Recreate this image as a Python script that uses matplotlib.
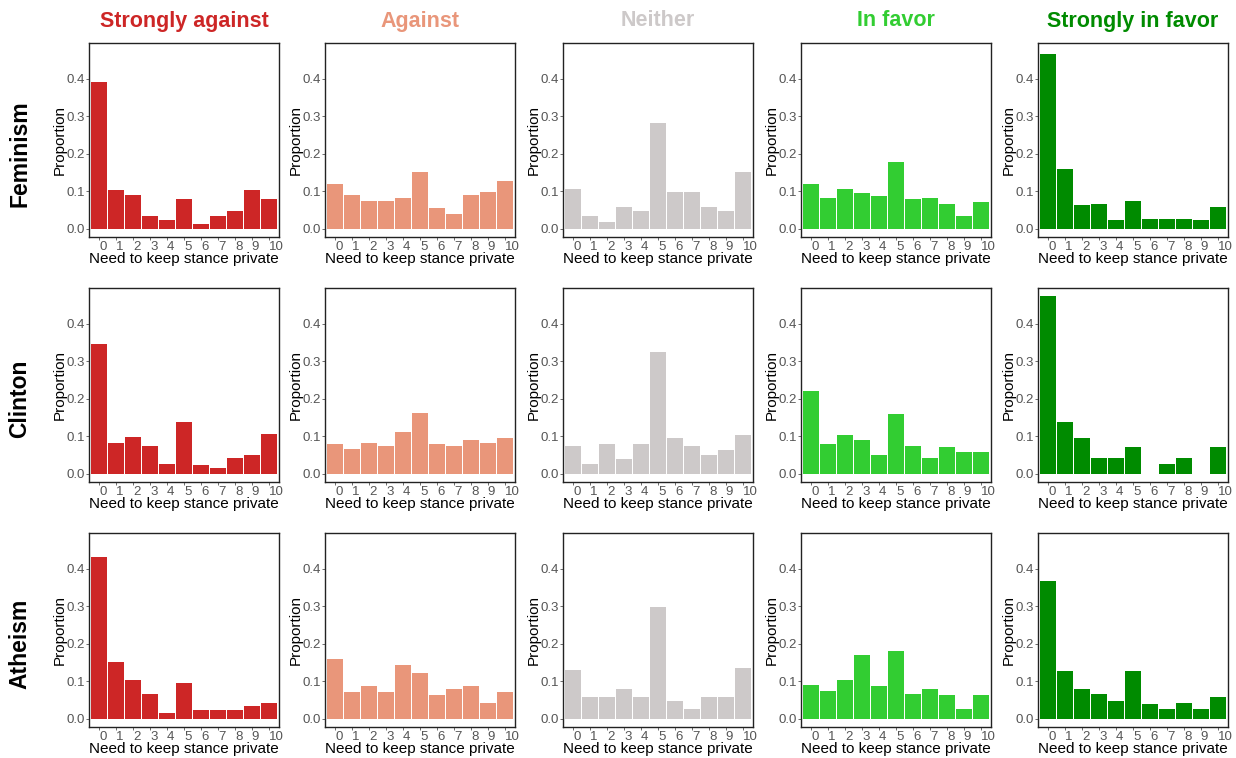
import matplotlib
matplotlib.use("Agg")
import matplotlib.pyplot as plt
import numpy as np

plt.rcParams['font.family'] = ['Liberation Sans', 'DejaVu Sans']

# stance groups (columns) and topics (rows)
stances = ['Strongly against', 'Against', 'Neither', 'In favor', 'Strongly in favor']
stance_colors = ['#CD2626', '#E9967A', '#CDC9C9', '#32CD32', '#008B00']
topics = ['Feminism', 'Clinton', 'Atheism']
scale = list(range(11))
tick_labels = [str(s) for s in scale]

# proportion answering each point of the 0-10 scale
feminism = [
    [0.390, 0.104, 0.091, 0.035, 0.022, 0.080, 0.012, 0.035, 0.046, 0.104, 0.080],
    [0.120, 0.091, 0.075, 0.075, 0.083, 0.150, 0.054, 0.038, 0.091, 0.099, 0.128],
    [0.107, 0.035, 0.019, 0.059, 0.046, 0.282, 0.099, 0.099, 0.059, 0.046, 0.152],
    [0.118, 0.083, 0.107, 0.096, 0.088, 0.179, 0.078, 0.083, 0.065, 0.035, 0.070],
    [0.465, 0.158, 0.062, 0.065, 0.022, 0.075, 0.027, 0.027, 0.027, 0.022, 0.057],
]
clinton = [
    [0.346, 0.083, 0.099, 0.073, 0.027, 0.139, 0.022, 0.014, 0.043, 0.049, 0.107],
    [0.080, 0.067, 0.083, 0.073, 0.112, 0.163, 0.080, 0.073, 0.091, 0.083, 0.096],
    [0.073, 0.025, 0.078, 0.038, 0.078, 0.325, 0.096, 0.073, 0.049, 0.062, 0.102],
    [0.221, 0.080, 0.104, 0.091, 0.049, 0.158, 0.073, 0.041, 0.070, 0.059, 0.057],
    [0.473, 0.139, 0.096, 0.041, 0.041, 0.070, 0.000, 0.027, 0.041, 0.000, 0.070],
]
atheism = [
    [0.431, 0.152, 0.102, 0.065, 0.014, 0.094, 0.022, 0.022, 0.022, 0.035, 0.043],
    [0.160, 0.070, 0.088, 0.070, 0.142, 0.123, 0.062, 0.080, 0.088, 0.043, 0.070],
    [0.131, 0.059, 0.057, 0.078, 0.057, 0.298, 0.046, 0.027, 0.057, 0.059, 0.134],
    [0.091, 0.073, 0.102, 0.171, 0.086, 0.181, 0.067, 0.078, 0.062, 0.027, 0.062],
    [0.367, 0.128, 0.080, 0.067, 0.046, 0.128, 0.038, 0.025, 0.043, 0.025, 0.057],
]
data = [feminism, clinton, atheism]

W, H = 1236, 758
fig = plt.figure(figsize=(W / 100, H / 100), dpi=100)

lefts = [89, 325, 563, 801, 1038]
tops = [43, 288, 533]
pw, ph = 190, 194

for r, topic in enumerate(topics):
    for c, stance in enumerate(stances):
        ax = fig.add_axes([lefts[c] / W, 1 - (tops[r] + ph) / H, pw / W, ph / H])
        ax.bar(scale, data[r][c], width=0.94, color=stance_colors[c], linewidth=0)
        ax.set_xlim(-0.6, 10.6)
        ax.set_ylim(-0.022, 0.495)
        ax.set_yticks([0, 0.1, 0.2, 0.3, 0.4])
        ax.set_yticklabels(['0.0', '0.1', '0.2', '0.3', '0.4'])
        ax.set_xticks(scale)
        ax.set_xticklabels(tick_labels, ha='left')
        ax.tick_params(axis='both', length=2.5, width=0.6, color='#555555',
                       labelcolor='#555555', labelsize=9.5, pad=0.5)
        for sp in ax.spines.values():
            sp.set_linewidth(1.0)
            sp.set_color('#222222')
        ax.set_ylabel('Proportion', fontsize=11, labelpad=0)
        ax.set_xlabel('Need to keep stance private', fontsize=11, labelpad=-1)

        if r == 0:
            fig.text((lefts[c] + pw / 2) / W, 1 - 21 / H, stance, ha='center', va='center',
                     fontsize=15.5, fontweight='bold', color=stance_colors[c])
    # topic names sit beside the panel plus its axis title
    fig.text(20 / W, 1 - (tops[r] + ph / 2 + 14) / H, topic, ha='center', va='center',
             rotation=90, fontsize=16.5, fontweight='bold', color='black')

fig.savefig('out.png', dpi=100)
